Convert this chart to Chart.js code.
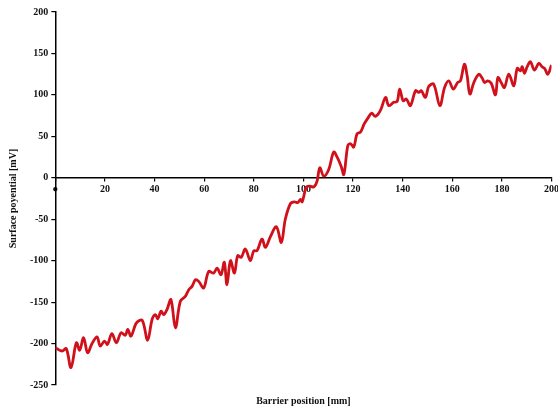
<!DOCTYPE html>
<html>
<head>
<meta charset="utf-8">
<script src="https://cdn.jsdelivr.net/npm/chart.js@4.4.1/dist/chart.umd.min.js"></script>
<style>
  html, body { margin: 0; padding: 0; background: #fff; overflow: hidden; }
  #wrap { width: 562px; height: 409px; }
</style>
</head>
<body>
<div id="wrap"><canvas id="SP"></canvas></div>
<script>
//DATOS (barrier position mm / surface potential mV)
const positions = [0, 2.7, 4.4, 6.3, 8.5, 9.8, 11.4, 13, 14.8, 16.8, 18.1, 19.8, 21, 22.8, 24.6, 26.5, 28.2, 29.2, 30.5, 32.7,
    35, 37.2, 39, 40.3, 41.3, 42.6, 43.7, 45, 46.6, 48.4, 50.4, 52.4, 53.8, 55.1, 56.5, 57.8, 59.8, 61.8, 63.8, 65.2,
    66.8, 68.1, 69.2, 70.6, 72.2, 73.5, 74.9, 76.6, 78.6, 80, 81.3, 83.3, 84.7, 86.7, 89.1, 91.1, 92.7, 94.8, 96.4, 97.7,
    98.8, 99.5, 101.2, 102.6, 104.2, 105.5, 106.6, 108.2, 110.2, 112.2, 113.6, 115.2, 116.3, 117.9, 119, 120.3, 121.6, 123, 124.5, 126,
    127.5, 129, 131, 133.1, 134.4, 136.4, 137.8, 138.8, 140.2, 141.5, 143.1, 145.2, 146.5, 147.5, 149.2, 150.5, 152.5, 155, 156.9, 158.6,
    160.4, 162.2, 163.3, 164.9, 166, 167.1, 168.7, 170.7, 172.1, 173, 174.3, 175.7, 177.4, 178.4, 179.7, 181, 182.8, 184.8, 186.2, 187.5,
    188.2, 189.1, 190.2, 191.5, 193.1, 194.9, 196.2, 197.2, 198.5, 200];
const potentials = [-205, -209, -206, -229, -199, -208, -193, -211, -200, -192, -203, -197, -201, -188, -199, -187, -190, -183, -191, -175,
    -172, -196, -171, -165, -170, -161, -165, -159, -147, -181, -149, -143, -135, -131, -123, -125, -133, -113, -115, -109,
    -117, -102, -129, -100, -115, -94, -96, -86, -100, -88, -88, -74, -84, -71, -59, -78, -50, -31, -29, -30,
    -26, -29, -11, -10, -11, -4, 12, 2, 10, 31, 25, 14, 4, 39, 41, 37, 53, 55, 65, 72,
    78, 74, 81, 97, 87, 91, 92, 107, 93, 95, 87, 105, 103, 105, 97, 110, 113, 87, 109, 117,
    107, 115, 117, 137, 123, 101, 115, 125, 120, 115, 117, 114, 100, 121, 115, 109, 125, 111, 132, 129,
    134, 126, 134, 140, 130, 138, 134, 132, 125, 136];
const xTicks = [0, 20, 40, 60, 80, 100, 120, 140, 160, 180, 200];
const yTicks = [200, 150, 100, 50, 0, -50, -100, -150, -200, -250];

const fuente = { family: "'Liberation Serif', 'DejaVu Serif', serif", size: 10, weight: 'bold' };

const ctx = document.getElementById('SP').getContext('2d');
const chartSP = new Chart(ctx, {
    type: 'line',
    data: {
        datasets: [{
            data: positions.map((p, i) => ({ x: p, y: potentials[i] })),
            borderColor: '#d0111b',
            borderWidth: 2.8,
            pointRadius: 0,
            tension: 0.35,
            fill: false,
        }]
    },
    options: {
        responsive: true,
        maintainAspectRatio: false,
        animation: false,
        layout: { padding: { top: 12, right: 0, bottom: 2, left: 7 } },
        plugins: {
            legend: { display: false },
            tooltip: { enabled: false },
        },
        scales: {
            x: {
                type: 'linear',
                position: { y: 0 },
                min: 0, max: 200,
                afterBuildTicks: axis => { axis.ticks = xTicks.map(v => ({ value: v })); },
                grid: { drawOnChartArea: false, color: '#000', tickLength: 3, lineWidth: 1.2 },
                border: { color: '#000', width: 1.5 },
                ticks: {
                    color: '#111', font: fuente, padding: 3, maxRotation: 0,
                    callback: v => v === 0 ? '●' : v,
                },
            },
            x2: {
                type: 'linear',
                position: 'bottom',
                min: 0, max: 200,
                grid: { display: false },
                border: { display: false },
                ticks: { display: false },
                title: { display: true, text: 'Barrier position [mm]', color: '#111', font: fuente, padding: { top: 2, bottom: 0 } },
            },
            y: {
                type: 'linear',
                position: 'left',
                min: -250, max: 200,
                afterBuildTicks: axis => { axis.ticks = yTicks.map(v => ({ value: v })); },
                grid: { drawOnChartArea: false, color: '#000', tickLength: 4, lineWidth: 1.2 },
                border: { color: '#000', width: 1.5 },
                ticks: { color: '#111', font: fuente, padding: 3 },
                title: { display: true, text: 'Surface poyential [mV]', color: '#111', font: fuente, padding: { top: 0, bottom: 8 } },
            }
        }
    }
});
</script>
</body>
</html>
